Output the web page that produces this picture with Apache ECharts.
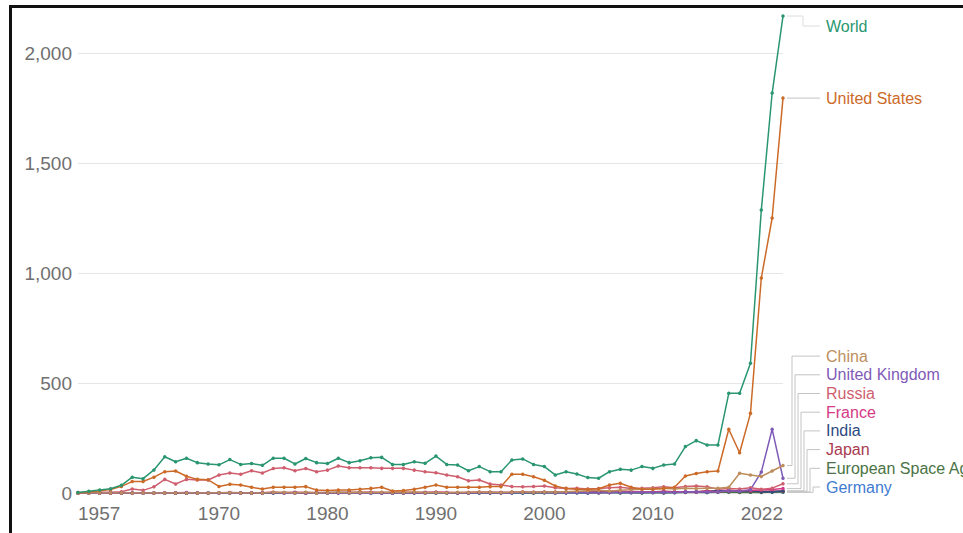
<!DOCTYPE html>
<html><head><meta charset="utf-8">
<script src="https://cdn.jsdelivr.net/npm/echarts@6/dist/echarts.min.js"></script>
<style>
html,body{margin:0;padding:0;background:#fff;overflow:hidden;}
#c{position:absolute;left:0;top:0;width:963px;height:533px;}
#frame{position:absolute;left:9px;top:5px;width:980px;height:560px;border-left:3px solid #111;border-top:3px solid #111;pointer-events:none;}
</style></head>
<body><div id="c"></div><div id="frame"></div>
<script>
const years = [1957,1958,1959,1960,1961,1962,1963,1964,1965,1966,
  1967,1968,1969,1970,1971,1972,1973,1974,1975,1976,
  1977,1978,1979,1980,1981,1982,1983,1984,1985,1986,
  1987,1988,1989,1990,1991,1992,1993,1994,1995,1996,
  1997,1998,1999,2000,2001,2002,2003,2004,2005,2006,
  2007,2008,2009,2010,2011,2012,2013,2014,2015,2016,
  2017,2018,2019,2020,2021,2022];
const xTicks = [1957,1970,1980,1990,2000,2010,2022];
const yTicks = [0,500,1000,1500,2000];

const world = [2,8,14,19,35,72,65,105,165,142,
  158,138,132,128,152,130,134,126,158,158,
  132,157,138,134,158,138,147,160,162,130,
  130,142,135,168,130,127,101,120,97,97,
  150,155,130,120,82,97,86,70,67,97,
  108,104,120,112,127,132,211,238,218,218,
  453,453,590,1286,1818,2168];
const unitedStates = [0,5,10,16,30,52,52,72,97,100,
  76,62,60,30,40,36,26,18,26,26,
  26,29,14,11,14,14,17,21,26,9,
  11,17,26,36,26,26,26,26,29,29,
  85,85,74,58,32,21,17,17,19,36,
  44,26,17,17,21,26,77,89,97,100,
  290,183,362,977,1250,1795];
const china = [0,0,0,0,0,0,0,0,0,0,
  0,0,0,1,1,0,0,0,3,2,
  0,3,0,1,3,1,2,2,3,2,
  2,4,1,2,1,3,2,5,3,2,
  4,4,3,5,4,6,8,10,12,9,
  12,15,17,19,22,18,22,20,22,22,
  26,90,82,75,100,125];
const unitedKingdom = [0,0,0,0,0,1,0,1,0,0,
  1,0,0,0,1,0,0,1,1,0,
  0,1,1,0,1,0,0,0,0,0,
  0,1,1,1,1,0,0,1,1,1,
  1,2,2,2,1,1,2,1,2,2,
  3,2,3,2,3,2,5,6,5,6,
  10,8,15,95,290,67];
const russia = [2,1,3,3,6,18,12,28,62,41,
  62,59,59,82,91,85,101,91,111,115,
  101,111,97,104,123,115,115,115,112,112,
  112,104,97,92,82,74,56,59,41,36,
  30,28,30,32,24,20,22,18,20,24,
  26,20,22,24,28,24,30,32,28,17,
  20,18,24,17,22,42];
const france = [0,0,0,0,0,0,0,0,1,1,
  2,0,0,1,1,0,0,1,3,0,
  1,0,1,1,1,1,1,2,1,1,
  1,2,1,3,2,1,2,3,2,2,
  3,4,3,3,2,3,4,3,2,2,
  4,5,4,4,5,4,6,5,8,6,
  9,10,12,14,16,20];
const india = [0,0,0,0,0,0,0,0,0,0,
  0,0,0,0,0,0,0,0,1,0,
  0,0,1,1,2,1,1,0,0,0,
  1,1,0,0,1,1,1,1,0,1,
  1,0,1,2,2,1,2,1,2,2,
  2,3,2,4,2,3,4,6,5,12,
  8,9,10,6,5,10];
const japan = [0,0,0,0,0,0,0,0,0,0,
  0,0,0,1,2,1,0,1,2,2,
  3,2,2,2,2,3,3,3,2,3,
  3,2,3,3,2,1,2,3,3,2,
  3,3,2,3,3,4,3,5,6,4,
  5,4,3,5,8,6,4,6,10,7,
  12,9,8,7,9,8];
const esa = [0,0,0,0,0,0,0,0,0,0,
  0,0,0,0,0,0,0,0,1,0,
  1,0,0,0,1,0,1,0,1,0,
  0,1,0,0,0,0,0,0,1,0,
  1,1,0,1,0,1,1,0,0,2,
  0,1,0,1,0,1,2,3,2,4,
  3,2,3,2,4,5];
const germany = [0,0,0,0,0,0,0,0,0,0,
  0,0,1,1,0,0,0,1,0,1,
  0,0,0,0,0,0,0,0,0,0,
  0,0,0,1,0,0,0,1,1,0,
  0,1,1,1,0,1,1,2,2,2,
  2,2,1,3,1,2,3,4,2,3,
  5,4,3,5,6,3];

const seriesNames = ['Germany','European Space Agency','Japan','India','France','Russia','United Kingdom','China','United States','World'];
const seriesData = {
  'World': world, 'United States': unitedStates, 'China': china, 'United Kingdom': unitedKingdom,
  'Russia': russia, 'France': france, 'India': india, 'Japan': japan,
  'European Space Agency': esa, 'Germany': germany
};
const colors = {
  'World':'#2a9670', 'United States':'#cc6a28', 'China':'#bd8e5c', 'United Kingdom':'#7f5bb8',
  'Russia':'#cf5f6f', 'France':'#d43b86', 'India':'#2d4a80', 'Japan':'#a83a4f',
  'European Space Agency':'#4a7345', 'Germany':'#3f7bd0'
};

const FONT = "'Liberation Sans', Arial, sans-serif";
const chart = echarts.init(document.getElementById('c'), null, {renderer:'svg', width:963, height:533});
chart.setOption({
  animation:false,
  backgroundColor:'#fff',
  grid:{left:78, right:180, top:9, bottom:40},
  xAxis:{type:'value', min:years[0], max:years[years.length-1],
    axisLine:{show:false}, axisTick:{show:false, customValues:xTicks}, splitLine:{show:false},
    axisLabel:{customValues:xTicks, formatter:v=>String(v), fontSize:19, color:'#707070', fontFamily:FONT,
      margin:11, alignMinLabel:'left', alignMaxLabel:'right'}},
  yAxis:{type:'value', min:0, max:2200,
    axisLine:{show:false}, axisTick:{show:false, customValues:yTicks},
    axisLabel:{customValues:yTicks, formatter:v=>v.toLocaleString('en-US'), fontSize:19, color:'#707070', fontFamily:FONT, margin:6},
    splitLine:{show:true, lineStyle:{color:'#e6e6e6', width:1}}},
  series: seriesNames.map(n => ({
    name:n, type:'line', data: years.map((y,i)=>[y, seriesData[n][i]]),
    symbol:'circle', symbolSize:3.5, showSymbol:true,
    lineStyle:{width:1.5, color:colors[n]}, itemStyle:{color:colors[n]},
    emphasis:{disabled:true}
  }))
});

// End labels with connectors (OWID style), positioned from the chart's own scales
const byEnd = seriesNames.slice().sort((a,b)=>seriesData[b][years.length-1]-seriesData[a][years.length-1]);
const ends = byEnd.map(n => chart.convertToPixel({gridIndex:0}, [years[years.length-1], seriesData[n][years.length-1]]));
const labelY = new Array(byEnd.length);
const GAP = 18.7, TOP = 26, BOTTOM = 487;
for (let k = byEnd.length-1; k >= 0; k--) {
  let y = Math.min(Math.max(ends[k][1], TOP), BOTTOM);
  if (k < byEnd.length-1) y = Math.min(y, labelY[k+1] - GAP);
  labelY[k] = y;
}
const graphics = [];
byEnd.forEach((n,k) => {
  const ex = ends[k][0] + 4, ey = ends[k][1], ly = labelY[k];
  const xk = k < 2 ? 803 : 792 + (k-2)*3;
  graphics.push({type:'polyline', silent:true, shape:{points:[[ex,ey],[xk,ey],[xk,ly],[820,ly]]},
    style:{stroke: k===0 ? '#dddddd' : '#c4c4c4', lineWidth:1, fill:null}});
  graphics.push({type:'text', silent:true, x:826, y:ly,
    style:{text:n, fill:colors[n], fontSize:16, fontFamily:FONT, verticalAlign:'middle', align:'left'}});
});
chart.setOption({graphic: graphics});
</script>
</body></html>
